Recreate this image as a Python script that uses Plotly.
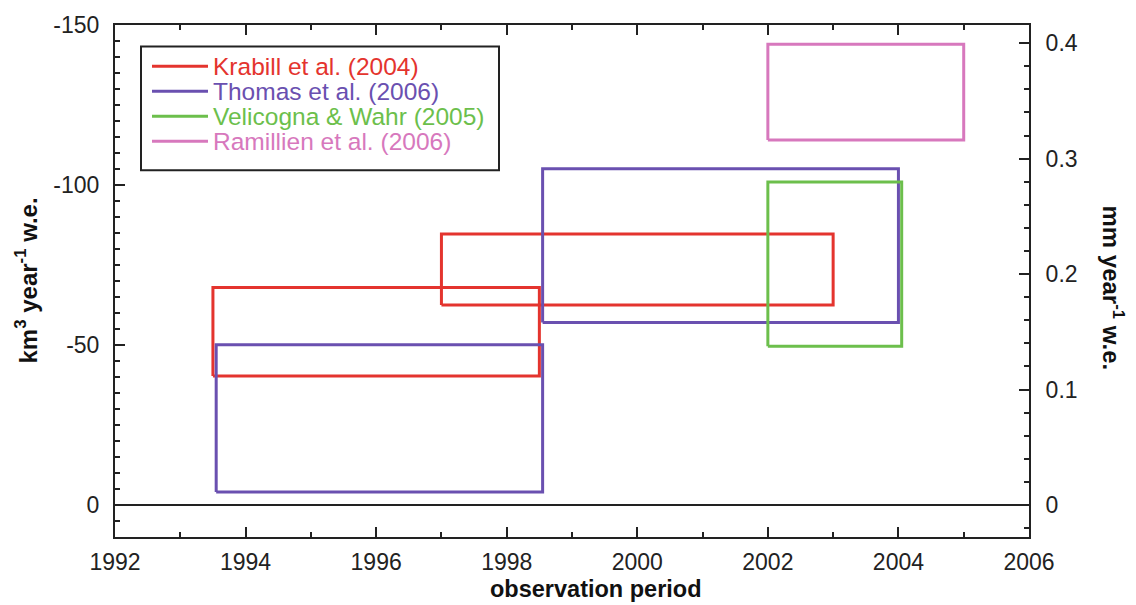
import plotly.graph_objects as go

# ---- data ----
studies = ["Krabill et al. (2004)", "Thomas et al. (2006)",
           "Velicogna & Wahr (2005)", "Ramillien et al. (2006)"]
study_colors = ["#e4342e", "#6a50b0", "#6cbf4c", "#d778bd"]

# one entry per rectangle: study index, period start/end, rate bounds (km3/yr)
rect_study = [0, 0, 1, 1, 2, 3]
rect_start = [1993.5, 1997.0, 1993.55, 1998.55, 2002.0, 2002.0]
rect_end   = [1998.5, 2003.0, 1998.55, 2004.0, 2004.05, 2005.0]
rect_low   = [-40.3, -62.5, -4.1, -57.0, -49.6, -114.1]
rect_high  = [-68.0, -84.7, -50.1, -105.1, -100.9, -144.0]

x_ticks = [1992, 1994, 1996, 1998, 2000, 2002, 2004, 2006]
y_ticks = [-150, -100, -50, 0]
y_tick_text = ["-150", "-100", "-50", "0"]
km3_per_mm = 360.8  # ocean-area conversion for right axis

W, H = 1136, 605
ML, MR, MT, MB = 115, 107, 20, 68
PW, PH = W - ML - MR, H - MT - MB

def px_x(p):
    return (p - ML) / PW

def px_y(p):
    return (H - MB - p) / PH

FONT = "Liberation Sans, Arial, Helvetica, sans-serif"

fig = go.Figure()
for i in range(len(rect_study)):
    s = rect_study[i]
    x0, x1 = rect_start[i], rect_end[i]
    y0, y1 = rect_low[i], rect_high[i]
    fig.add_trace(go.Scatter(
        x=[x0, x1, x1, x0, x0], y=[y0, y0, y1, y1, y0],
        mode="lines", line=dict(color=study_colors[s], width=3),
        name=studies[s], showlegend=False, hoverinfo="skip"))

# invisible trace to activate right axis
fig.add_trace(go.Scatter(x=[1992], y=[0], yaxis="y2", mode="markers",
                         marker=dict(opacity=0), showlegend=False, hoverinfo="skip"))

ymin, ymax = 10, -150
fig.update_layout(
    width=W, height=H,
    margin=dict(l=ML, r=MR, t=MT, b=MB),
    paper_bgcolor="white", plot_bgcolor="white",
    font=dict(family=FONT, size=23, color="#222"),
    showlegend=False,
    xaxis=dict(range=[1992, 2006], tickvals=x_ticks, ticks="inside", ticklen=10,
               tickwidth=1.5, tickcolor="#222", showline=True, linecolor="#222",
               linewidth=2, mirror="ticks", showgrid=False, zeroline=False,
               minor=dict(tickmode="linear", tick0=1992, dtick=1, ticks="inside",
                          ticklen=5, tickwidth=1.5, tickcolor="#222"),
               ticklabelstandoff=3),
    yaxis=dict(range=[ymin, ymax], tickvals=y_ticks, ticktext=y_tick_text,
               ticks="inside", ticklen=10, tickwidth=1.5, tickcolor="#222",
               showline=True, linecolor="#222", linewidth=2, showgrid=False,
               zeroline=True, zerolinecolor="#222", zerolinewidth=1.5,
               minor=dict(tickmode="linear", tick0=0, dtick=5, ticks="inside",
                          ticklen=5, tickwidth=1.5, tickcolor="#222"),
               ticklabelstandoff=9),
    yaxis2=dict(range=[-ymin / km3_per_mm, -ymax / km3_per_mm], overlaying="y",
                side="right", tickmode="linear", tick0=0, dtick=0.1,
                ticks="inside", ticklen=10, tickwidth=1.5, tickcolor="#222",
                showline=True, linecolor="#222", linewidth=2, showgrid=False,
                zeroline=False,
                minor=dict(tickmode="linear", tick0=0, dtick=0.02, ticks="inside",
                           ticklen=5, tickwidth=1.5, tickcolor="#222"),
                ticklabelstandoff=10),
)

# axis titles
fig.add_annotation(text="<b>observation period</b>", xref="paper", yref="paper",
                   x=px_x(595.5), y=px_y(590), xanchor="center", yanchor="middle",
                   showarrow=False, font=dict(size=23.5, color="#111"))
fig.add_annotation(text="<b>km<sup>3</sup> year<sup>-1</sup> w.e.</b>", xref="paper",
                   yref="paper", x=px_x(26), y=px_y(278), xanchor="center",
                   yanchor="middle", textangle=-90, showarrow=False,
                   font=dict(size=24, color="#111"))
fig.add_annotation(text="<b>mm year<sup>-1</sup> w.e.</b>", xref="paper",
                   yref="paper", x=px_x(1113), y=px_y(285), xanchor="center",
                   yanchor="middle", textangle=90, showarrow=False,
                   font=dict(size=24, color="#111"))

# custom legend (box, line samples, coloured labels)
fig.add_shape(type="rect", xref="paper", yref="paper",
              x0=px_x(141), x1=px_x(499), y0=px_y(166.7), y1=px_y(41.7),
              line=dict(color="#222", width=2), fillcolor="white", layer="above")
row0, step = 61.7, 25.2
for k, name in enumerate(studies):
    yy = px_y(row0 + k * step)
    fig.add_shape(type="line", xref="paper", yref="paper",
                  x0=px_x(152), x1=px_x(208), y0=yy, y1=yy,
                  line=dict(color=study_colors[k], width=3), layer="above")
    fig.add_annotation(text=name, xref="paper", yref="paper", x=px_x(211), y=yy,
                       xanchor="left", yanchor="middle", showarrow=False,
                       font=dict(size=24.5, color=study_colors[k]))

fig.write_html("out.html")
